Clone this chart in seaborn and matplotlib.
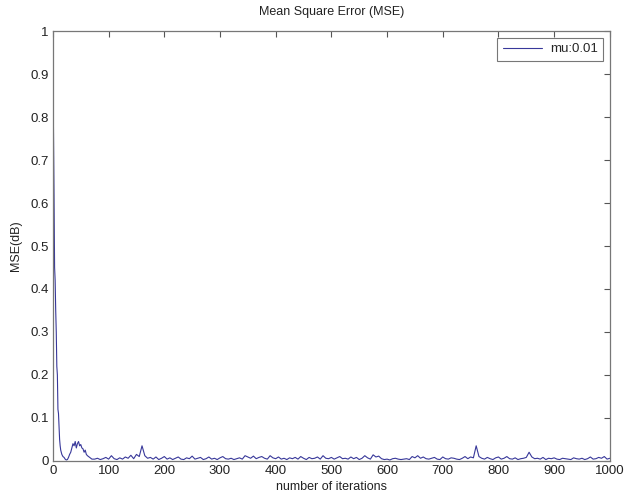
import matplotlib
matplotlib.use("Agg")
import matplotlib.pyplot as plt
import seaborn as sns
import pandas as pd

# primeiras iteracoes (queda rapida + pequeno "bump")
iter_inicio = [0, 1, 2, 3, 4, 5, 6, 7, 8, 9, 10, 11, 12, 13, 14, 15, 16, 18, 20, 22,
               24, 26, 28, 30, 32, 34, 36, 38, 40, 42, 44, 46, 48, 50, 52, 54, 56, 58,
               60, 62, 64, 66, 68, 70]
mse_inicio = [0.92, 0.78, 0.62, 0.45, 0.42, 0.35, 0.30, 0.22, 0.20, 0.12, 0.11, 0.08,
              0.05, 0.035, 0.025, 0.02, 0.015, 0.01, 0.008, 0.004, 0.002, 0.003, 0.008,
              0.015, 0.02, 0.03, 0.04, 0.035, 0.045, 0.03, 0.04, 0.045, 0.035, 0.038,
              0.03, 0.028, 0.02, 0.025, 0.015, 0.012, 0.01, 0.008, 0.006, 0.004]

# regime estacionario, amostrado a cada 5 iteracoes (75..1000)
iter_fim = list(range(75, 1001, 5))
mse_fim = [
    0.004, 0.006, 0.003, 0.005, 0.008, 0.004, 0.012, 0.005, 0.003, 0.007,
    0.004, 0.009, 0.006, 0.013, 0.005, 0.015, 0.010, 0.035, 0.012, 0.006,
    0.008, 0.004, 0.009, 0.003, 0.006, 0.010, 0.004, 0.007, 0.003, 0.006,
    0.009, 0.004, 0.003, 0.007, 0.005, 0.011, 0.004, 0.006, 0.008, 0.003,
    0.005, 0.009, 0.004, 0.006, 0.003, 0.007, 0.010, 0.005, 0.004, 0.006,
    0.003, 0.005, 0.007, 0.004, 0.012, 0.009, 0.006, 0.011, 0.005, 0.008,
    0.010, 0.006, 0.004, 0.012, 0.007, 0.005, 0.009, 0.004, 0.006, 0.003,
    0.007, 0.005, 0.008, 0.004, 0.010, 0.006, 0.003, 0.008, 0.005, 0.006,
    0.009, 0.004, 0.012, 0.006, 0.005, 0.008, 0.004, 0.007, 0.010, 0.005,
    0.006, 0.004, 0.009, 0.005, 0.008, 0.003, 0.006, 0.012, 0.007, 0.004,
    0.014, 0.009, 0.011, 0.005, 0.003, 0.004, 0.002, 0.005, 0.006, 0.004,
    0.003, 0.004, 0.005, 0.003, 0.010, 0.007, 0.012, 0.006, 0.009, 0.005,
    0.004, 0.006, 0.008, 0.004, 0.003, 0.009, 0.005, 0.004, 0.007, 0.006,
    0.004, 0.003, 0.006, 0.010, 0.005, 0.009, 0.007, 0.035, 0.010, 0.006,
    0.004, 0.008, 0.005, 0.003, 0.007, 0.009, 0.004, 0.006, 0.010, 0.005,
    0.004, 0.007, 0.003, 0.005, 0.006, 0.008, 0.020, 0.009, 0.005, 0.006,
    0.004, 0.008, 0.003, 0.006, 0.005, 0.007, 0.004, 0.003, 0.006, 0.005,
    0.004, 0.003, 0.007, 0.005, 0.004, 0.006, 0.003, 0.005, 0.009, 0.004,
    0.005, 0.008, 0.006, 0.010, 0.004, 0.006,
]

df = pd.DataFrame({"iteracao": iter_inicio + iter_fim, "mse": mse_inicio + mse_fim})

sns.set_theme(style="white")
plt.rcParams["font.family"] = ["Liberation Sans", "DejaVu Sans"]

fig = plt.figure(figsize=(6.3, 4.95), dpi=100)
ax = fig.add_axes([0.084, 0.069, 0.884, 0.868])

sns.lineplot(data=df, x="iteracao", y="mse", color="#38389a", linewidth=0.8,
             label="mu:0.01", ax=ax)

ax.set_xlim(0, 1000)
ax.set_ylim(0, 1)
ax.set_xticks(range(0, 1001, 100))
ax.set_yticks([0, 0.1, 0.2, 0.3, 0.4, 0.5, 0.6, 0.7, 0.8, 0.9, 1])
ax.set_yticklabels(["0", "0.1", "0.2", "0.3", "0.4", "0.5", "0.6", "0.7", "0.8", "0.9", "1"])
ax.tick_params(direction="in", length=4, width=0.8, top=True, right=True,
               labelsize=9.5, colors="#555555", labelcolor="#222222", pad=3)
for s in ax.spines.values():
    s.set_color("#777777")
    s.set_linewidth(0.9)

ax.set_title("Mean Square Error (MSE)", fontsize=9, color="#222222", pad=12)
ax.set_xlabel("number of iterations", fontsize=9, color="#222222", labelpad=3)
ax.set_ylabel("MSE(dB)", fontsize=9, color="#222222", labelpad=6)

leg = ax.legend(loc="upper right", fontsize=9.5, frameon=True, fancybox=False,
                handlelength=3.0, handletextpad=0.6, borderpad=0.4, borderaxespad=0.5)
leg.get_frame().set_edgecolor("#555555")
leg.get_frame().set_linewidth(0.8)

fig.savefig("out.png", dpi=100)
